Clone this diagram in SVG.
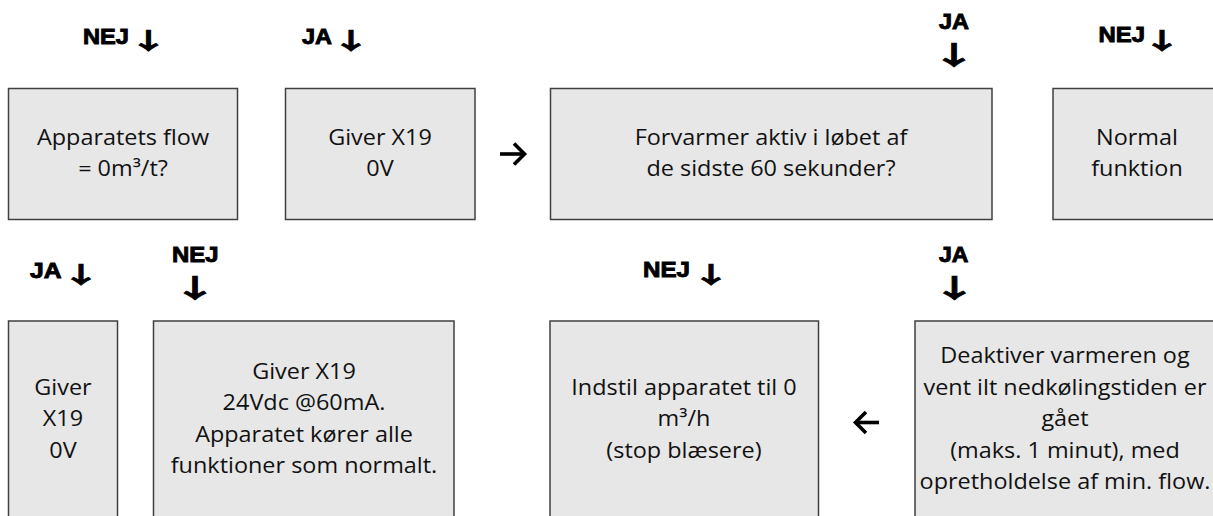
<svg xmlns="http://www.w3.org/2000/svg" width="1213" height="516" viewBox="0 0 1213 516">
<style>
.box{fill:#e7e7e7;stroke:#404040;stroke-width:1.5}
.t{font-family:"Open Sans","Noto Sans",sans-serif;font-size:21.5px;fill:#111;text-anchor:middle}
.lbl{font-family:"Liberation Sans",Arial,sans-serif;font-weight:bold;font-size:21.5px;fill:#000;stroke:#000;stroke-width:0.9}
.arr{font-family:"Noto Sans CJK JP","Noto Sans CJK SC","DejaVu Sans",sans-serif;font-weight:bold;font-size:23px;stroke-width:0.6}
.arr2{font-family:"Noto Sans CJK JP","Noto Sans CJK SC","DejaVu Sans",sans-serif;font-weight:bold;font-size:26px;stroke-width:0.6}
.con{fill:none;stroke:#000;stroke-width:3.6;stroke-linecap:butt;stroke-linejoin:miter}
</style>
<rect width="1213" height="516" fill="#fff"/>
<g id="labels">
<text class="lbl" y="43.5"><tspan x="83" textLength="46" lengthAdjust="spacingAndGlyphs">NEJ</tspan><tspan class="arr" x="128.5" y="49" textLength="40" lengthAdjust="spacingAndGlyphs">↓</tspan></text>
<text class="lbl" y="43.5"><tspan x="302" textLength="30" lengthAdjust="spacingAndGlyphs">JA</tspan><tspan class="arr" x="331" y="49" textLength="40" lengthAdjust="spacingAndGlyphs">↓</tspan></text>
<text class="lbl" y="29"><tspan x="939" textLength="30" lengthAdjust="spacingAndGlyphs">JA</tspan><tspan class="arr2" x="931" y="65" textLength="46" lengthAdjust="spacingAndGlyphs">↓</tspan></text>
<text class="lbl" y="42"><tspan x="1098.5" textLength="46.5" lengthAdjust="spacingAndGlyphs">NEJ</tspan><tspan class="arr" x="1142" y="48.5" textLength="40" lengthAdjust="spacingAndGlyphs">↓</tspan></text>
<text class="lbl" y="277.5"><tspan x="30" textLength="31.5" lengthAdjust="spacingAndGlyphs">JA</tspan><tspan class="arr" x="61" y="283" textLength="40" lengthAdjust="spacingAndGlyphs">↓</tspan></text>
<text class="lbl" y="261.5"><tspan x="172" textLength="46.5" lengthAdjust="spacingAndGlyphs">NEJ</tspan><tspan class="arr2" x="172" y="297.5" textLength="46" lengthAdjust="spacingAndGlyphs">↓</tspan></text>
<text class="lbl" y="277"><tspan x="643" textLength="47" lengthAdjust="spacingAndGlyphs">NEJ</tspan><tspan class="arr" x="691" y="283" textLength="40" lengthAdjust="spacingAndGlyphs">↓</tspan></text>
<text class="lbl" y="262"><tspan x="939" textLength="29.5" lengthAdjust="spacingAndGlyphs">JA</tspan><tspan class="arr2" x="931.5" y="297.5" textLength="46" lengthAdjust="spacingAndGlyphs">↓</tspan></text>
</g>
<g id="connectors">
<path class="con" d="M500,154 H523"/>
<path class="con" d="M514,143.5 L524.5,154 L514,164.5"/>
<path class="con" d="M856,422.5 H879"/>
<path class="con" d="M866,412 L855.5,422.5 L866,433"/>
</g>
<g id="n1">
<rect class="box" x="8.5" y="88.5" width="229" height="131"/>
<g transform="translate(123,0) scale(1.09,1)"><text class="t" x="0" y="145">Apparatets flow</text><text class="t" x="0" y="176.5">= 0m³/t?</text></g>
</g>
<g id="n2">
<rect class="box" x="285.5" y="88.5" width="189.5" height="131"/>
<g transform="translate(380,0) scale(1.09,1)"><text class="t" x="0" y="145">Giver X19</text><text class="t" x="0" y="176.5">0V</text></g>
</g>
<g id="n3">
<rect class="box" x="550.5" y="88.5" width="441.5" height="131"/>
<g transform="translate(771,0) scale(1.09,1)"><text class="t" x="0" y="145">Forvarmer aktiv i løbet af</text><text class="t" x="0" y="176.5">de sidste 60 sekunder?</text></g>
</g>
<g id="n4">
<rect class="box" x="1053" y="88.5" width="168" height="131"/>
<g transform="translate(1137,0) scale(1.09,1)"><text class="t" x="0" y="145">Normal</text><text class="t" x="0" y="176.5">funktion</text></g>
</g>
<g id="n5">
<rect class="box" x="8.5" y="321" width="109" height="200"/>
<g transform="translate(63,0) scale(1.09,1)"><text class="t" x="0" y="395">Giver</text><text class="t" x="0" y="426.5">X19</text><text class="t" x="0" y="458">0V</text></g>
</g>
<g id="n6">
<rect class="box" x="153.5" y="321" width="300.5" height="200"/>
<g transform="translate(304,0) scale(1.09,1)"><text class="t" x="0" y="379">Giver X19</text><text class="t" x="0" y="410.5">24Vdc @60mA.</text><text class="t" x="0" y="442">Apparatet kører alle</text><text class="t" x="0" y="473.5">funktioner som normalt.</text></g>
</g>
<g id="n7">
<rect class="box" x="550" y="321" width="268.5" height="200"/>
<g transform="translate(684,0) scale(1.09,1)"><text class="t" x="0" y="395">Indstil apparatet til 0</text><text class="t" x="0" y="426.5">m³/h</text><text class="t" x="0" y="458">(stop blæsere)</text></g>
</g>
<g id="n8">
<rect class="box" x="915" y="321" width="306" height="200"/>
<g transform="translate(1065,0) scale(1.09,1)"><text class="t" x="0" y="363.5">Deaktiver varmeren og</text><text class="t" x="0" y="395">vent ilt nedkølingstiden er</text><text class="t" x="0" y="426.5">gået</text><text class="t" x="0" y="458">(maks. 1 minut), med</text><text class="t" x="0" y="489.5">opretholdelse af min. flow.</text></g>
</g>
</svg>
